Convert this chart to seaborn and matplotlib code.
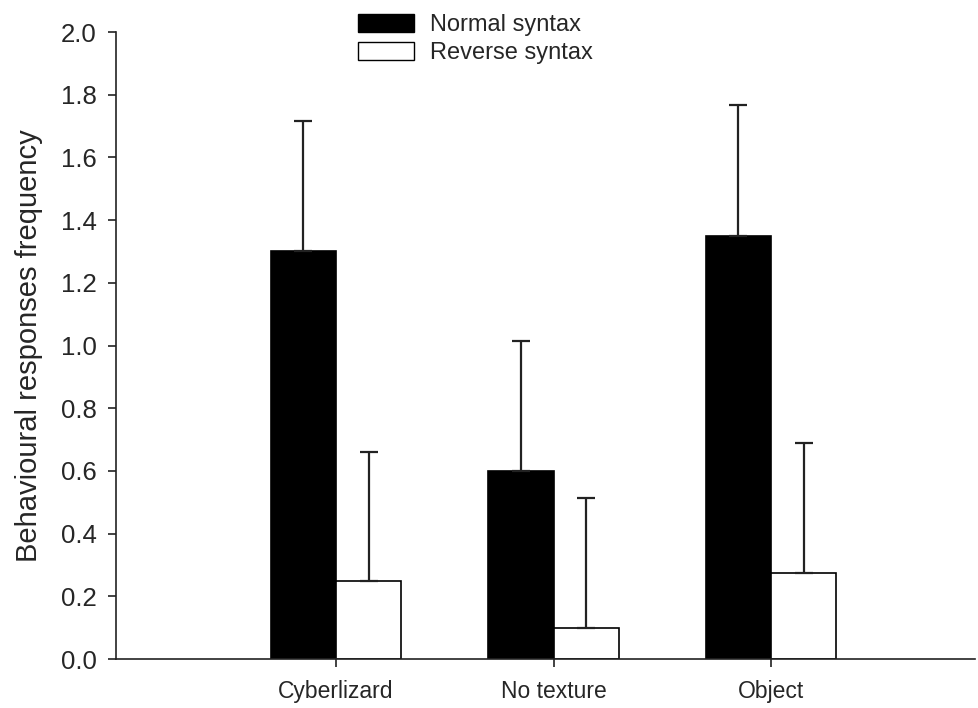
import matplotlib
matplotlib.use("Agg")
import matplotlib.pyplot as plt
import seaborn as sns
import pandas as pd
import numpy as np

categories = ["Cyberlizard", "No texture", "Object"]
series = ["Normal syntax", "Reverse syntax"]
normal_means = [1.30, 0.60, 1.35]
normal_errs = [0.415, 0.415, 0.417]
reverse_means = [0.25, 0.10, 0.275]
reverse_errs = [0.41, 0.415, 0.414]
y_ticks = [0.0, 0.2, 0.4, 0.6, 0.8, 1.0, 1.2, 1.4, 1.6, 1.8, 2.0]

df = pd.DataFrame({
    "category": categories * 2,
    "syntax": [series[0]] * 3 + [series[1]] * 3,
    "value": normal_means + reverse_means,
    "err": normal_errs + reverse_errs,
})

sns.set_style("white")
plt.rcParams["font.family"] = ["Liberation Sans", "DejaVu Sans"]

fig = plt.figure(figsize=(9.79, 7.08), dpi=100)
ax = fig.add_axes([0.1185, 0.0692, 0.8775, 0.8856])

sns.barplot(data=df, x="category", y="value", hue="syntax", order=categories,
            hue_order=series, palette=["black", "white"], width=0.6,
            edgecolor="black", linewidth=1.2, errorbar=None, ax=ax, legend=True)

# error bars (upper only) from bar patches
bars = [p for p in ax.patches if p.get_height() > 0 or p.get_width() > 0][:6]
errs = normal_errs + reverse_errs
vals = normal_means + reverse_means
for p, v, e in zip(bars, vals, errs):
    xc = p.get_x() + p.get_width() / 2
    ax.errorbar(xc, v, yerr=[[0], [e]], fmt="none", ecolor="#222222",
                elinewidth=1.6, capsize=6.5, capthick=1.6, zorder=1)

ax.set_ylim(0, 2.0)
ax.set_xlim(-1.0115, 2.938)
ax.set_yticks(y_ticks)
ax.set_yticklabels([f"{t:.1f}" for t in y_ticks])
ax.set_xlabel("")
ax.set_ylabel("Behavioural responses frequency", fontsize=21, labelpad=13)
ax.tick_params(axis="both", direction="out", length=6,
               width=1.2, color="#222222", bottom=True, left=True)
ax.tick_params(axis="y", labelsize=18.5, pad=8)
ax.tick_params(axis="x", labelsize=16.5, pad=9)
for s in ["top", "right"]:
    ax.spines[s].set_visible(False)
for s in ["left", "bottom"]:
    ax.spines[s].set_color("#222222")
    ax.spines[s].set_linewidth(1.2)

leg = ax.legend(loc="upper left", bbox_to_anchor=(0.282, 1.029), frameon=False,
                fontsize=17, handlelength=2.35, handleheight=0.8,
                handletextpad=0.7, labelspacing=0.25, borderaxespad=0,
                borderpad=0)
for h in leg.legend_handles:
    h.set_edgecolor("black")
    h.set_linewidth(1.0)

fig.savefig("out.png", dpi=100)
